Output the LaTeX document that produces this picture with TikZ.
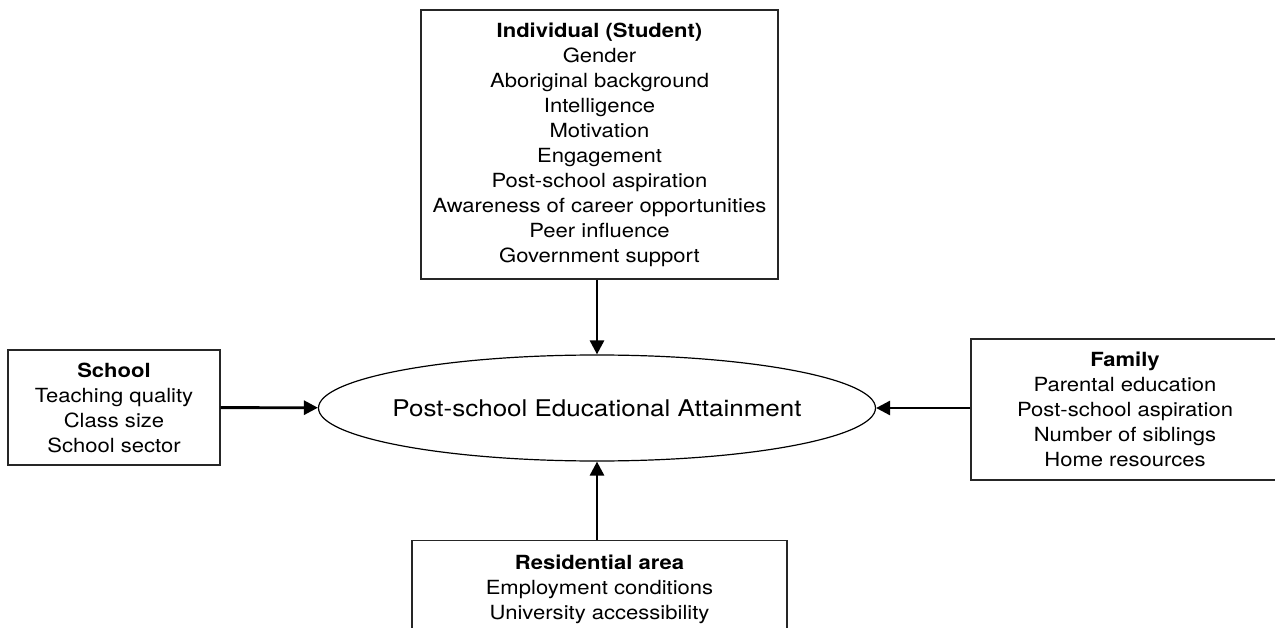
\documentclass[tikz,border=0pt]{standalone}
\usepackage{fontspec}
\setmainfont{TeX Gyre Heros}[FakeStretch=1.13]
\usetikzlibrary{positioning,arrows.meta,shapes.geometric}

\begin{document}
\begin{tikzpicture}[x=1pt,y=-1pt,
      font=\fontsize{19.5}{25}\selectfont,
      box/.style={draw=black!85,line width=1.1pt,align=center,inner sep=0pt},
      goalshape/.style={draw,ellipse,line width=1.2pt,inner sep=0pt,
                  label={[font=\fontsize{23}{27}\selectfont]center:#1}},
      ar/.style={-{Triangle[length=14pt,width=14pt]},line width=2.8pt}]

    \clip (0,0) rectangle (1275,628);

    \node[goalshape={Post-school Educational Attainment},
          minimum width=557pt,minimum height=106pt] (goal) at (597,408) {};

    % the four groups of factors
    \node[box,minimum width=357pt,minimum height=269pt] (indiv) at (599.5,144.5)
      {\textbf{Individual (Student)}\\Gender\\Aboriginal background\\Intelligence\\Motivation\\Engagement\\Post-school aspiration\\Awareness of career opportunities\\Peer influence\\Government support};
    \node[box,minimum width=212pt,minimum height=115pt] (school) at (114,407.5)
      {\textbf{School}\\Teaching quality\\Class size\\School sector};
    \node[box,minimum width=308pt,minimum height=141pt] (family) at (1125,409.5)
      {\textbf{Family}\\Parental education\\Post-school aspiration\\Number of siblings\\Home resources};
    \node[box,anchor=north,minimum width=375pt,inner ysep=14pt] (resid) at (599.5,540)
      {\textbf{Residential area}\\Employment conditions\\University accessibility};

    \draw[ar] (indiv.south -| goal) -- (goal);
    \draw[ar] (school) -- (goal);
    \draw[ar] (family.west |- goal) -- (goal);
    \draw[ar] (resid.north -| goal) -- (goal);
  \end{tikzpicture}
\end{document}
